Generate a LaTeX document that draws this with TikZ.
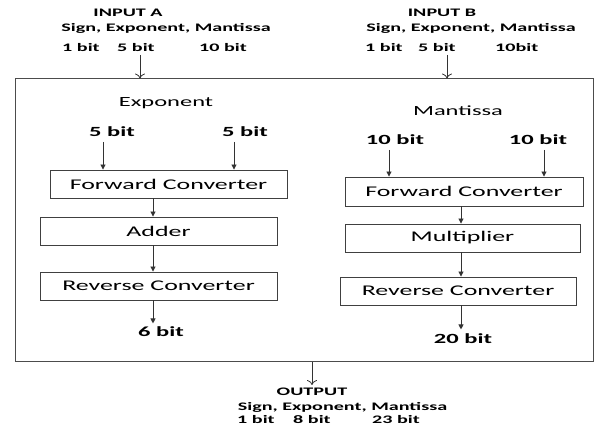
\documentclass[tikz,border=0pt]{standalone}
\usepackage{fontspec}
\setmainfont{Carlito}[FakeStretch=1.75]
\usetikzlibrary{arrows.meta}
\begin{document}
\begin{tikzpicture}[x=1pt,y=-1pt,
  blk/.style={draw=black!75,line width=0.9pt,minimum height=28pt,inner sep=0pt,font=\fontsize{14.8}{16}\selectfont},
  ttl/.style={font=\fontsize{14}{16}\selectfont,inner sep=0pt},
  bitl/.style={font=\fontsize{14}{16}\selectfont\bfseries,inner sep=0pt},
  io/.style={font=\fontsize{11.5}{13}\selectfont\bfseries,inner sep=0pt},
  flow/.style={draw=black!80,line width=0.9pt,-{Triangle[length=5pt,width=5pt]}},
  ext/.style={draw=black!80,line width=0.8pt,-{To[length=5pt,width=10pt]}}]
\useasboundingbox (0,0) rectangle (595,427);
% outer box
\node[draw=black!70,line width=1pt,minimum width=578pt,minimum height=283pt,inner sep=0pt] (outer) at (304,220.5) {};
% inputs
\node[io] (ina) at (128,13) {INPUT A};
\node[io] (ina2) at (166,28) {Sign, Exponent, Mantissa};
\node[io,anchor=west] (ina3) at (62,48) {1 bit};
\node[io,anchor=west] (ina4) at (117,48) {5 bit};
\node[io,anchor=west] (ina5) at (199,48) {10 bit};
\node[io] (inb) at (442,13) {INPUT B};
\node[io] (inb2) at (471,28) {Sign, Exponent, Mantissa};
\node[io,anchor=west] (inb3) at (365,48) {1 bit};
\node[io,anchor=west] (inb4) at (418,48) {5 bit};
\node[io,anchor=west] (inb5) at (495,48) {10bit};
\coordinate (ta) at (140,55);
\coordinate (tb) at (447,55);
\draw[ext] (ta) -- (ta |- outer.north);
\draw[ext] (tb) -- (tb |- outer.north);
% exponent
\node[ttl] (expt) at (166,103) {Exponent};
\node[bitl] (e1) at (112,132) {5 bit};
\node[bitl] (e2) at (245,132) {5 bit};
\node[blk,minimum width=237pt] (fcl) at (168.5,184) {Forward Converter};
\node[blk,minimum width=237pt] (add) at (158.5,231) {Adder};
\node[blk,minimum width=237pt] (rcl) at (158.5,286) {Reverse Converter};
\node[bitl] (e6) at (161,332) {6 bit};
\coordinate (xe1) at (103,142);
\coordinate (xe2) at (234,142);
\coordinate (xe3) at (153,0);
\draw[flow] (xe1) -- (xe1 |- fcl.north);
\draw[flow] (xe2) -- (xe2 |- fcl.north);
\draw[flow] (fcl.south -| xe3) -- (add.north -| xe3);
\draw[flow] (add.south -| xe3) -- (rcl.north -| xe3);
\draw[flow] (rcl.south -| xe3) -- ++(0,23);
% mantissa
\node[ttl] (mant) at (458,111) {Mantissa};
\node[bitl] (m1) at (395,140) {10 bit};
\node[bitl] (m2) at (538,140) {10 bit};
\node[blk,minimum width=238pt,minimum height=29pt] (fcr) at (464,191.5) {Forward Converter};
\node[blk,minimum width=235pt] (mul) at (462.5,238) {Multiplier};
\node[blk,minimum width=236pt] (rcr) at (458,291) {Reverse Converter};
\node[bitl] (m20) at (463,339) {20 bit};
\coordinate (xm1) at (389,150);
\coordinate (xm2) at (544,150);
\coordinate (xm3) at (461,0);
\draw[flow] (xm1) -- (xm1 |- fcr.north);
\draw[flow] (xm2) -- (xm2 |- fcr.north);
\draw[flow] (fcr.south -| xm3) -- (mul.north -| xm3);
\draw[flow] (mul.south -| xm3) -- (rcr.north -| xm3);
\draw[flow] (rcr.south -| xm3) -- ++(0,24);
% output
\coordinate (xo) at (312,0);
\node[io] (out) at (312,392) {OUTPUT};
\node[io] (out2) at (342.5,407) {Sign, Exponent, Mantissa};
\node[io,anchor=west] (out3) at (237,420) {1 bit};
\node[io,anchor=west] (out4) at (293,420) {8 bit};
\node[io,anchor=west] (out5) at (372,420) {23 bit};
\draw[ext] (outer.south -| xo) -- (312,385);
\end{tikzpicture}
\end{document}
